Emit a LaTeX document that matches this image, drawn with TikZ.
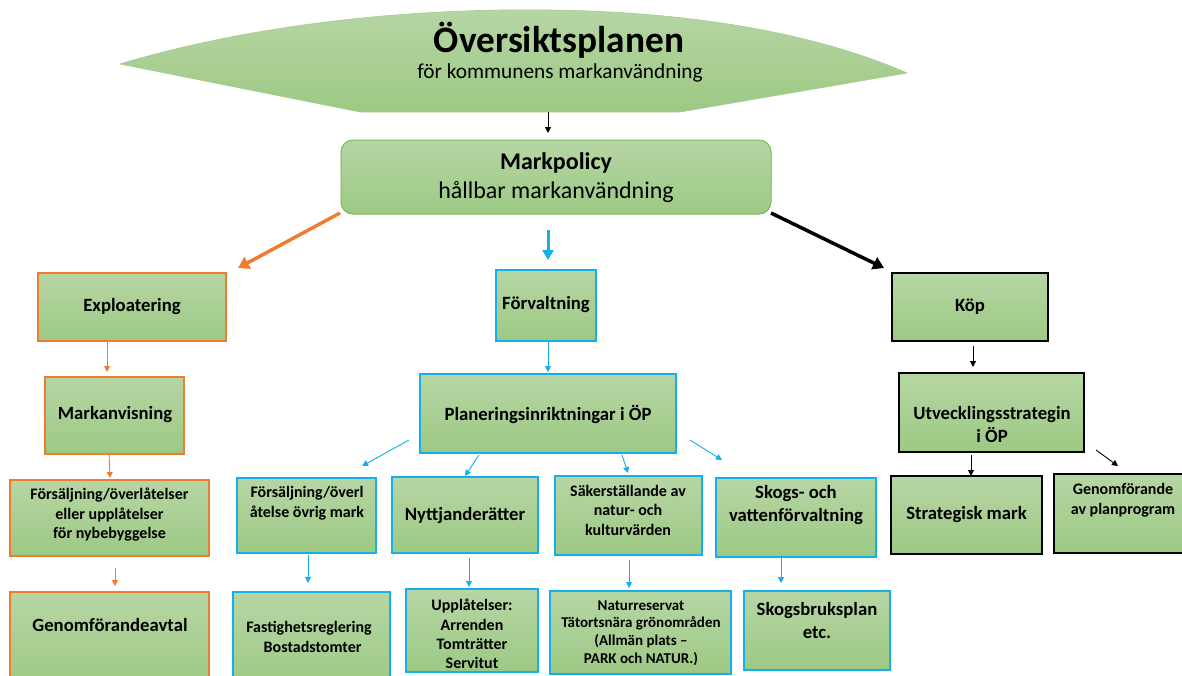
\documentclass[tikz,border=0pt]{standalone}
\usepackage{fontspec}
\setmainfont{Carlito}
\usetikzlibrary{arrows.meta,calc}
\definecolor{gtop}{RGB}{182,214,164}
\definecolor{gbot}{RGB}{157,201,132}
\definecolor{ora}{RGB}{237,125,49}
\definecolor{blu}{RGB}{20,176,238}
\definecolor{gedge}{RGB}{125,182,92}
\tikzset{
  box/.style={draw, line width=2.2pt, top color=gtop, bottom color=gbot, inner sep=0pt, outer sep=0pt},
  obox/.style={box, draw=ora},
  bbox/.style={box, draw=blu},
  kbox/.style={box, draw=black},
  t/.style={align=center, inner sep=0pt, font=\bfseries\fontsize{16}{19.5}\selectfont},
  tm/.style={align=center, inner sep=0pt, font=\bfseries\fontsize{18.7}{22.5}\selectfont},
  thin arr/.style={line width=0.9pt, -{Triangle[length=6pt,width=6pt]}},
  oarr/.style={thin arr, draw=ora, fill=ora},
  barr/.style={thin arr, draw=blu, fill=blu},
  karr/.style={thin arr, draw=black},
  thick arr/.style={line width=3.5pt, -{Triangle[length=11pt,width=13pt]}},
}
\begin{document}
\begin{tikzpicture}[x=1pt,y=-1pt]
\useasboundingbox (0,0) rectangle (1182,675);
\clip (0,0) rectangle (1182,675);
% top shape
\path[top color=gtop, bottom color=gbot, draw=gedge!70, line width=0.6pt]
  (120,64) .. controls (260,22) and (420,8) .. (550,10)
  .. controls (700,12) and (820,35) .. (907,73)
  -- (680,112) -- (360,112) -- cycle;
\coordinate (ovtip) at (548,112);
\node[inner sep=0pt, font=\bfseries\fontsize{37.3}{42}\selectfont] (ovt) at (559,40) {Översiktsplanen};
\node[inner sep=0pt, font=\fontsize{21.3}{25}\selectfont] (ovs) at (560,73) {för kommunens markanvändning};
% markpolicy
\node[draw=gedge, line width=1pt, rounded corners=12pt, top color=gtop, bottom color=gbot,
  minimum width=430, minimum height=74, inner sep=0pt, outer sep=0pt] (mp) at (556,177) {};
\node[inner sep=0pt, font=\bfseries\fontsize{24}{28}\selectfont] (mpt) at (556,163) {Markpolicy};
\node[inner sep=0pt, font=\fontsize{24}{28}\selectfont] (mps) at (556,192) {hållbar markanvändning};
% left column
\node[obox, minimum width=188, minimum height=68] (expl) at (132,307) {};
\node[tm] (explt) at (132,307) {Exploatering};
\node[obox, minimum width=139, minimum height=77] (mav) at (114.5,415.5) {};
\node[tm] (mavt) at (115,415) {Markanvisning};
\node[obox, minimum width=199, minimum height=76] (fors) at (109.5,518) {};
\node[t] (forst) at (109.5,515) {Försäljning/överlåtelser\\eller upplåtelser\\för nybebyggelse};
\node[obox, minimum width=199, minimum height=98] (gen) at (109.5,641) {};
\node[tm] (gent) at (110,625) {Genomförandeavtal};
% middle
\node[bbox, minimum width=100, minimum height=71] (forv) at (546,305.5) {};
\node[tm] (forvt) at (546,305) {Förvaltning};
\node[bbox, minimum width=256, minimum height=79] (plan) at (548,413.5) {};
\node[tm] (plant) at (548,414) {Planeringsinriktningar i ÖP};
\node[bbox, minimum width=139, minimum height=75] (b1) at (306.5,515.5) {};
\node[t] (b1t) at (307,503) {Försäljning/överl\\åtelse övrig mark};
\node[bbox, minimum width=146, minimum height=76] (b2) at (465,515) {};
\node[tm] (b2t) at (465,516) {Nyttjanderätter};
\node[bbox, minimum width=147, minimum height=79] (b3) at (628.5,515.5) {};
\node[t] (b3t) at (628,510) {Säkerställande av\\natur- och\\kulturvärden};
\node[bbox, minimum width=160, minimum height=79] (b4) at (796,517.5) {};
\node[tm, font=\bfseries\fontsize{18.7}{23}\selectfont] (b4t) at (796,505.5) {Skogs- och\\vattenförvaltning};
\node[bbox, minimum width=157, minimum height=98] (c1) at (311.5,641) {};
\node[t, font=\bfseries\fontsize{16}{20}\selectfont] (c1t) at (309,637) {Fastighetsreglering\\\ \ Bostadstomter};
\node[bbox, minimum width=132, minimum height=83] (c2) at (472,630.5) {};
\node[t, font=\bfseries\fontsize{16}{19.3}\selectfont] (c2t) at (472,634) {Upplåtelser:\\Arrenden\\Tomträtter\\Servitut};
\node[bbox, minimum width=181, minimum height=83] (c3) at (640.5,632.5) {};
\node[t, font=\bfseries\fontsize{15}{17.7}\selectfont] (c3t) at (641,633) {Naturreservat\\Tätortsnära grönområden\\(Allmän plats –\\PARK och NATUR.)};
\node[bbox, minimum width=146, minimum height=79] (c4) at (817,630.5) {};
\node[tm, font=\bfseries\fontsize{18.7}{23}\selectfont] (c4t) at (817,620.5) {Skogsbruksplan\\etc.};
% right
\node[kbox, minimum width=156, minimum height=68] (kop) at (970,307) {};
\node[tm] (kopt) at (970,307) {Köp};
\node[kbox, minimum width=185, minimum height=79] (utv) at (991.5,412.5) {};
\node[tm] (utvt) at (992,424.5) {Utvecklingsstrategin\\i ÖP};
\node[kbox, minimum width=151, minimum height=78] (str) at (966.5,515) {};
\node[tm] (strt) at (966.5,515) {Strategisk mark};
\node[kbox, minimum width=140, minimum height=79] (gpp) at (1124,513.5) {};
\node[t, font=\bfseries\fontsize{16}{20}\selectfont] (gppt) at (1123,500) {Genomförande\\av planprogram};
% arrows
\draw[karr] (ovtip) -- ($(mp.north)+(-8,-7)$);
\draw[thick arr, draw=ora] ($(mp.south west)+(-1,-1)$) -- ($(expl.north east)+(12,-5)$);
\draw[line width=3pt, draw=blu, -{Triangle[length=10pt,width=11pt]}] ($(forv.north)+(2,-40)$) -- ($(forv.north)+(2,-10)$);
\draw[thick arr, draw=black] ($(mp.south east)+(0,-1)$) -- ($(kop.north west)+(-8,-5)$);
\draw[barr] ($(forv.south)+(2,0)$) -- ($(plan.north)+(0,-2)$);
\draw[barr] ($(plan.south west)+(-11,-13)$) -- ($(b1.north east)+(-14,-12)$);
\draw[barr] ($(plan.south)+(-69,2)$) -- ($(b2.north)+(0,-1)$);
\draw[barr] ($(plan.south)+(74,2)$) -- ($(b3.north)+(-0.5,-3)$);
\draw[barr] ($(plan.south east)+(14,-13)$) -- ($(b4.north west)+(6,-18)$);
\draw[barr] ($(b1.south)+(1.5,2)$) -- ($(c1.north)+(-3.5,-9)$);
\draw[barr] ($(b2.south)+(4,5)$) -- ($(c2.north)+(-3,-2)$);
\draw[barr] ($(b3.south)+(0.5,5)$) -- ($(c3.north)+(-11.5,-3)$);
\draw[barr] ($(b4.south)+(-15,-2)$) -- ($(c4.north)+(-36,-8)$);
\draw[oarr] ($(expl.south)+(-25,-1)$) -- ($(mav.north)+(-7.5,-5)$);
\draw[oarr] ($(mav.south)+(-5.5,-2)$) -- ($(fors.north)+(0.5,-2)$);
\draw[oarr] ($(fors.south)+(5.5,12)$) -- ($(gen.north)+(5.5,-6)$);
\draw[karr] ($(kop.south)+(3,5)$) -- ($(utv.north)+(-18.5,-6)$);
\draw[karr] ($(utv.south)+(-20.5,3)$) -- ($(str.north)+(4.5,0)$);
\draw[karr] ($(utv.south east)+(12,-2)$) -- ($(gpp.north west)+(64,-8)$);
\end{tikzpicture}
\end{document}
